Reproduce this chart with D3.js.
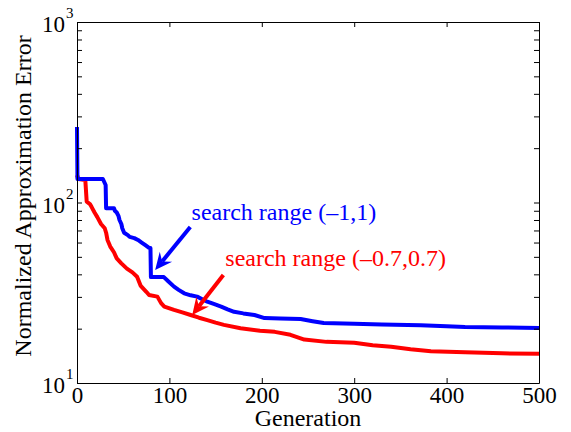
<!DOCTYPE html>
<html>
<head>
<meta charset="utf-8">
<script src="https://cdn.jsdelivr.net/npm/d3@7"></script>
<style>
  body { margin: 0; background: #fff; }
  svg { display: block; }
  text { font-family: "Liberation Serif", "Times New Roman", serif; }
</style>
</head>
<body>
<div id="chart"></div>
<script>
// Curva azul: search range (-1,1)
const blueGen = [0, 0.5, 28, 31, 31.5, 40, 41, 43, 45, 46, 48, 49, 51, 55, 57, 62, 66, 70, 74, 78, 79.5, 80, 94, 99, 105, 110, 116, 123, 130, 135, 141, 148, 156, 163, 170, 180, 192, 203, 220, 242, 255, 267, 300, 330, 372, 400, 420, 460, 500];
const blueErr = [262, 135, 135, 125, 93, 93, 90, 88, 84, 80, 76, 72, 68, 66, 64.5, 63.5, 62, 60, 58, 56, 56, 38.6, 38.6, 36.5, 34.2, 32.8, 31.4, 30.6, 30.1, 29.2, 28.2, 27.4, 26.5, 25.6, 24.8, 24.3, 23.8, 22.9, 22.8, 22.6, 22, 21.5, 21.3, 21.1, 20.9, 20.6, 20.4, 20.3, 20.2];

// Curva vermelha: search range (-0.7,0.7)
const redGen = [0, 1.5, 9, 10.5, 14, 16, 19, 22, 26, 30, 31.5, 33, 36, 40, 43, 48, 54, 60, 65, 69, 75, 78, 87, 91, 94.5, 105, 114, 123, 132, 141, 150, 159, 177, 198, 214, 231, 246, 270, 300, 320, 340, 361, 383, 420, 460, 500];
const redErr = [142, 135, 133, 101, 98, 94, 88, 83, 76, 72, 68, 62, 57, 53, 49, 46, 43, 41, 38.8, 34.5, 32, 30.7, 30.1, 27.7, 26.5, 25.4, 24.6, 23.8, 23, 22.3, 21.6, 21.0, 20.1, 19.5, 19.2, 18.5, 17.4, 16.9, 16.7, 16.2, 15.9, 15.4, 15.0, 14.8, 14.6, 14.5];

// Eixos
const xTicks = [0, 100, 200, 300, 400, 500];
const yMajor = [10, 100, 1000];
const yExp = ["1", "2", "3"];

// Anotações (coordenadas em unidades dos dados)
const blueLabel = "search range (\u20131,1)";
const redLabel = "search range (\u20130.7,0.7)";
const blueArrow = [[122.6, 73.1], [84.6, 42.3]];
const redArrow = [[158.4, 39.7], [124.7, 23.8]];
const blueText = [124, 80];
const redText = [160.5, 44.5];

const W = 571, H = 432;
const margin = { top: 22, right: 32, bottom: 49, left: 77 };

const svg = d3.select("#chart").append("svg")
  .attr("width", W).attr("height", H);

const x = d3.scaleLinear().domain([0, 500]).range([margin.left, W - margin.right]);
const y = d3.scaleLog().domain([10, 1000]).range([H - margin.bottom, margin.top]);

// Ticks menores do log
const yTicks = [];
for (let e = 1; e < 3; e++) for (let m = 1; m < 10; m++) yTicks.push(m * Math.pow(10, e));
yTicks.push(1000);

function styleAxis(g) {
  g.selectAll("path.domain").attr("stroke", "#000").attr("stroke-width", 1);
  g.selectAll(".tick line").attr("stroke", "#000").attr("stroke-width", 1);
}

// Linhas
const line = d3.line()
  .x(d => x(d[0]))
  .y(d => y(d[1]));

const plot = svg.append("g");
plot.append("path")
  .datum(redGen.map((g, i) => [g, redErr[i]]))
  .attr("fill", "none").attr("stroke", "#ff0000").attr("stroke-width", 4)
  .attr("stroke-linejoin", "round")
  .attr("d", line);
plot.append("path")
  .datum(blueGen.map((g, i) => [g, blueErr[i]]))
  .attr("fill", "none").attr("stroke", "#0000ff").attr("stroke-width", 4)
  .attr("stroke-linejoin", "round")
  .attr("d", line);

// Eixo X
svg.append("g")
  .attr("transform", `translate(0,${H - margin.bottom})`)
  .call(d3.axisBottom(x).tickValues(xTicks).tickSize(-5).tickSizeOuter(0).tickPadding(4))
  .call(styleAxis)
  .call(g => g.selectAll("text").attr("font-size", "23px").attr("fill", "#000")
    .attr("font-family", "Liberation Serif"));

svg.append("g")
  .attr("transform", `translate(0,${margin.top})`)
  .call(d3.axisTop(x).tickValues(xTicks).tickSize(-5).tickSizeOuter(0).tickFormat(""))
  .call(styleAxis);

// Eixo Y
svg.append("g")
  .attr("transform", `translate(${margin.left},0)`)
  .call(d3.axisLeft(y).tickValues(yTicks).tickSize(-5).tickSizeOuter(0).tickFormat(""))
  .call(styleAxis);

svg.append("g")
  .attr("transform", `translate(${W - margin.right},0)`)
  .call(d3.axisRight(y).tickValues(yTicks).tickSize(-5).tickSizeOuter(0).tickFormat(""))
  .call(styleAxis);

// Rótulos 10^k
yMajor.forEach((v, i) => {
  svg.append("text")
    .attr("x", margin.left - 12)
    .attr("y", y(v) + 10)
    .attr("text-anchor", "end")
    .attr("font-size", "23px")
    .attr("fill", "#000")
    .text("10");
  svg.append("text")
    .attr("x", margin.left - 11)
    .attr("y", y(v) - 4)
    .attr("font-size", "15px")
    .attr("fill", "#000")
    .text(yExp[i]);
});

// Títulos dos eixos
svg.append("text")
  .attr("x", (x(0) + x(500)) / 2)
  .attr("y", 426)
  .attr("text-anchor", "middle")
  .attr("font-size", "24px")
  .attr("fill", "#000")
  .text("Generation");

svg.append("text")
  .attr("transform", `translate(31,196) rotate(-90)`)
  .attr("text-anchor", "middle")
  .attr("font-size", "24px")
  .attr("fill", "#000")
  .text("Normalized Approximation Error");

// Setas
function drawArrow(pts, color) {
  const [x0, y0] = [x(pts[0][0]), y(pts[0][1])];
  const [x1, y1] = [x(pts[1][0]), y(pts[1][1])];
  const ang = Math.atan2(y1 - y0, x1 - x0);
  const len = 17, half = 8, notch = 11;
  const bx = x1 - len * Math.cos(ang), by = y1 - len * Math.sin(ang);
  const nx = x1 - notch * Math.cos(ang), ny = y1 - notch * Math.sin(ang);
  const px = -Math.sin(ang), py = Math.cos(ang);
  svg.append("line")
    .attr("x1", x0).attr("y1", y0).attr("x2", nx).attr("y2", ny)
    .attr("stroke", color).attr("stroke-width", 4);
  svg.append("path")
    .attr("d", `M${x1},${y1}L${bx + half * px},${by + half * py}L${nx},${ny}L${bx - half * px},${by - half * py}Z`)
    .attr("fill", color);
}
drawArrow(blueArrow, "#0000ff");
drawArrow(redArrow, "#ff0000");

svg.append("text")
  .attr("x", x(blueText[0])).attr("y", y(blueText[1]))
  .attr("font-size", "24px").attr("fill", "#0000ff")
  .text(blueLabel);

svg.append("text")
  .attr("x", x(redText[0])).attr("y", y(redText[1]))
  .attr("font-size", "24px").attr("fill", "#ff0000")
  .text(redLabel);
</script>
</body>
</html>
